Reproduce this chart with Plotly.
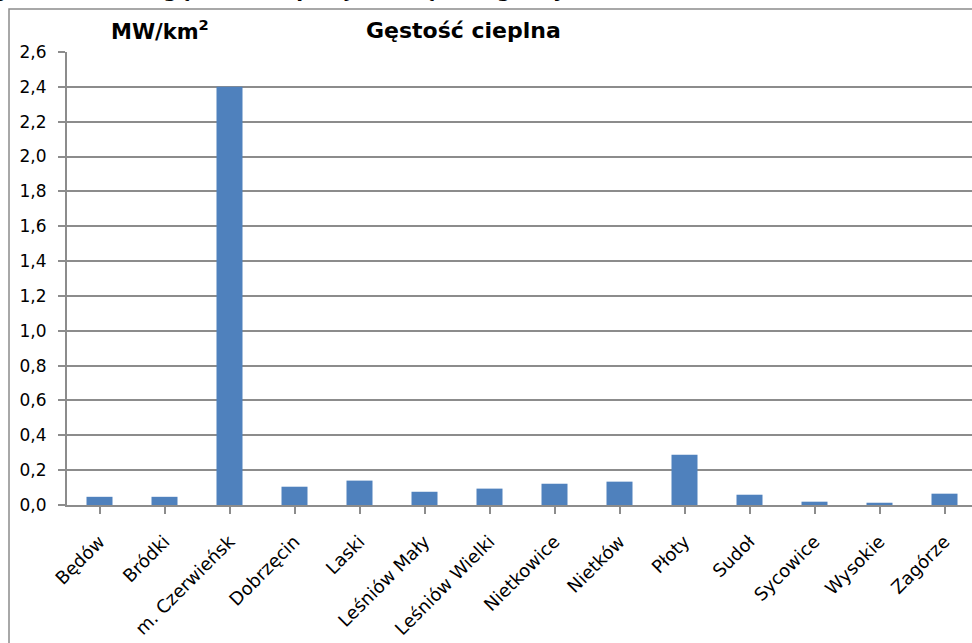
import plotly.graph_objects as go

categories = ["Będów", "Bródki", "m. Czerwieńsk", "Dobrzęcin", "Laski", "Leśniów Mały",
              "Leśniów Wielki", "Nietkowice", "Nietków", "Płoty", "Sudoł", "Sycowice",
              "Wysokie", "Zagórze"]
values = [0.047, 0.047, 2.40, 0.105, 0.140, 0.076, 0.094, 0.122, 0.134, 0.289, 0.059, 0.019, 0.013, 0.065]
y_ticks = [0.0, 0.2, 0.4, 0.6, 0.8, 1.0, 1.2, 1.4, 1.6, 1.8, 2.0, 2.2, 2.4, 2.6]

W, H = 972, 643
L, R, T, B = 67, 0, 52, 138
pw, ph = W - L - R, H - T - B

def px(x):
    return (x - L) / pw

def py(y):
    return (H - B - y) / ph

font_fam = "DejaVu Sans, Verdana, sans-serif"
grid_col = "#8c8c8c"

fig = go.Figure()
fig.add_trace(go.Bar(
    x=list(range(len(categories))), y=values,
    marker=dict(color="#4f81bd", line=dict(width=0)),
    width=0.4,
))

fig.update_layout(
    width=W, height=H,
    margin=dict(l=L, r=R, t=T, b=B, pad=0),
    paper_bgcolor="white", plot_bgcolor="white",
    separators=", ",
    showlegend=False,
    font=dict(family=font_fam, size=16, color="#000000"),
    xaxis=dict(
        range=[-0.5, -0.5 + pw / 65.0],
        tickmode="array",
        tickvals=list(range(len(categories))),
        ticktext=categories,
        tickangle=-45,
        ticks="outside", ticklen=7, tickcolor=grid_col, tickwidth=1.5,
        tickson="boundaries",
        showline=True, linecolor=grid_col, linewidth=2,
        showgrid=False, zeroline=False,
        tickfont=dict(family=font_fam, size=18, color="#000"),
        ticklabelstandoff=10,
    ),
    yaxis=dict(
        range=[0, 2.6],
        tickmode="array", tickvals=y_ticks,
        tickformat=".1f",
        ticks="outside", ticklen=7, tickcolor=grid_col, tickwidth=1.5,
        showline=True, linecolor=grid_col, linewidth=2,
        showgrid=True, gridcolor=grid_col, gridwidth=1.5,
        zeroline=False,
        tickfont=dict(family=font_fam, size=17, color="#000"),
        ticklabelstandoff=8,
    ),
    shapes=[
        dict(type="rect", xref="paper", yref="paper",
             x0=px(9), x1=px(W + 20), y0=py(H + 20), y1=py(9),
             line=dict(color="#8c8c8c", width=1.5), fillcolor="rgba(0,0,0,0)", layer="above"),
    ],
    annotations=[
        dict(text="<b>MW/km<sup>2</sup></b>", xref="paper", yref="paper",
             x=px(160), y=py(30), xanchor="center", yanchor="middle",
             showarrow=False, font=dict(family=font_fam, size=21, color="#000")),
        dict(text="<b>Gęstość cieplna</b>", xref="paper", yref="paper",
             x=px(463), y=py(31), xanchor="center", yanchor="middle",
             showarrow=False, font=dict(family=font_fam, size=22, color="#000")),
        dict(text="<b>Rys. 5. Wartość gęstości cieplnej w obrębach gminy Czerwieńsk</b>",
             xref="paper", yref="paper",
             x=px(-20), y=py(-10), xanchor="left", yanchor="middle",
             showarrow=False, font=dict(family=font_fam, size=20, color="#000")),
    ],
)

fig.write_html("out.html",
               config={"displayModeBar": False},
               post_script="document.body.style.margin='0';document.body.style.padding='0';")
